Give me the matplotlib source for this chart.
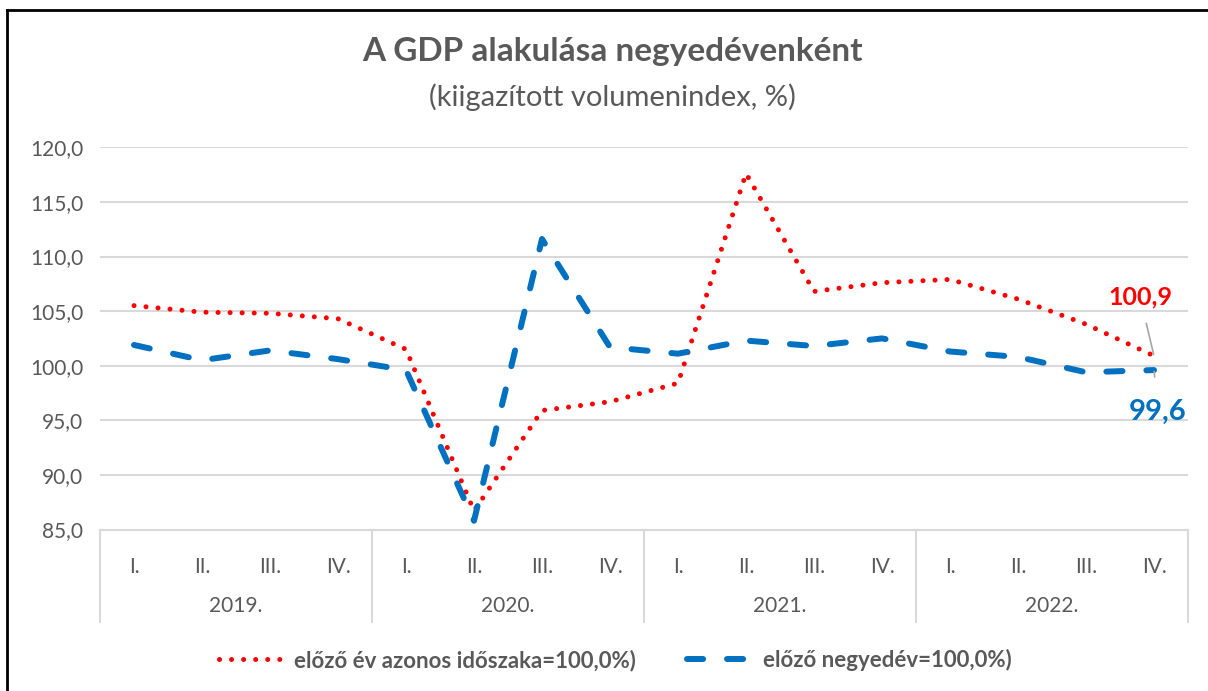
import matplotlib
matplotlib.use("Agg")
import matplotlib.pyplot as plt
from matplotlib.lines import Line2D

plt.rcParams['font.family'] = ['Lato', 'DejaVu Sans']

# adatok (leolvasva)
negyedevek = ["I.", "II.", "III.", "IV."] * 4
evek = ["2019.", "2020.", "2021.", "2022."]
elozo_ev = [105.5, 104.9, 104.8, 104.3,
            101.5, 86.7, 95.9, 96.7,
            98.4, 117.6, 106.8, 107.6,
            107.9, 106.1, 103.8, 100.9]
elozo_negyedev = [101.9, 100.5, 101.4, 100.6,
                  99.6, 85.8, 111.6, 101.7,
                  101.1, 102.3, 101.8, 102.5,
                  101.3, 100.8, 99.4, 99.6]

GRAY = "#595959"
GRID = "#d9d9d9"
RED = "#ff0000"
BLUE = "#0070c0"

fig = plt.figure(figsize=(12.08, 6.91), dpi=100)
ax = fig.add_axes([100 / 1208, 1 - 529.5 / 691, 1088 / 1208, 382.2 / 691])

x = list(range(len(negyedevek)))
ax.plot(x, elozo_ev, color=RED, lw=3.6, linestyle=(0, (0.01, 2.4)),
        dash_capstyle='round', label="előző év azonos időszaka=100,0%)", zorder=3)
ax.plot(x, elozo_negyedev, color=BLUE, lw=4.3, linestyle=(0, (2.7, 4.0)),
        dash_capstyle='round', label="előző negyedév=100,0%)", zorder=3)

ax.set_xlim(-0.5, 15.5)
ax.set_ylim(85, 120)
ax.set_yticks([85, 90, 95, 100, 105, 110, 115, 120])
ax.set_yticklabels([f"{v:.1f}".replace(".", ",") for v in range(85, 121, 5)],
                   color=GRAY, fontsize=15)
ax.yaxis.grid(True, color=GRID, lw=1.5)
ax.set_axisbelow(True)
for s in ["left", "right", "top"]:
    ax.spines[s].set_visible(False)
ax.spines["bottom"].set_color(GRID)
ax.spines["bottom"].set_linewidth(1.5)
ax.tick_params(axis='y', length=0, pad=12)
ax.set_xticks(x)
ax.set_xticklabels(negyedevek, color=GRAY, fontsize=15)
ax.tick_params(axis='x', length=0, pad=20)

# evek es elvalasztok
tr = ax.get_xaxis_transform()
for i in range(5):
    ax.add_line(Line2D([i * 4 - 0.5, i * 4 - 0.5], [0, -92 / 382.2], transform=tr,
                       color=GRID, lw=1.5, clip_on=False))
for i, ev in enumerate(evek):
    ax.text(i * 4 + 1.5, -77 / 382.2, ev, transform=tr, ha='center', va='center',
            color=GRAY, fontsize=15)

# adatcimkek
ax.annotate("100,9", xy=(15, elozo_ev[-1]), xytext=(-14, 59), textcoords='offset pixels',
            ha='center', va='center', color=RED, fontsize=18, fontweight='bold',
            arrowprops=dict(arrowstyle='-', color="#a6a6a6", lw=1.2, shrinkA=9, shrinkB=1))
ax.annotate("99,6", xy=(15, elozo_negyedev[-1]), xytext=(4, -42), textcoords='offset pixels',
            ha='center', va='center', color=BLUE, fontsize=21, fontweight='bold',
            arrowprops=dict(arrowstyle='-', color="#a6a6a6", lw=1.2, shrinkA=14, shrinkB=1))

fig.text(612 / 1208, 1 - 52 / 691, "A GDP alakulása negyedévenként", ha='center', va='center',
         color=GRAY, fontsize=24, fontweight='bold')
fig.text(612 / 1208, 1 - 97 / 691, "(kiigazított volumenindex, %)", ha='center', va='center',
         color=GRAY, fontsize=21)

fig.legend(loc='center', bbox_to_anchor=(615 / 1208, 1 - 660 / 691), ncol=2, frameon=False,
           handlelength=3.0, handletextpad=0.4, columnspacing=2.3,
           prop={'size': 16, 'weight': 'bold'}, labelcolor=GRAY)

# keret
fig.add_artist(Line2D([7, 1208], [681, 681], transform=None, color='black', lw=2))
fig.add_artist(Line2D([7, 7], [0, 681], transform=None, color='black', lw=2))

fig.savefig("out.png", dpi=100)
